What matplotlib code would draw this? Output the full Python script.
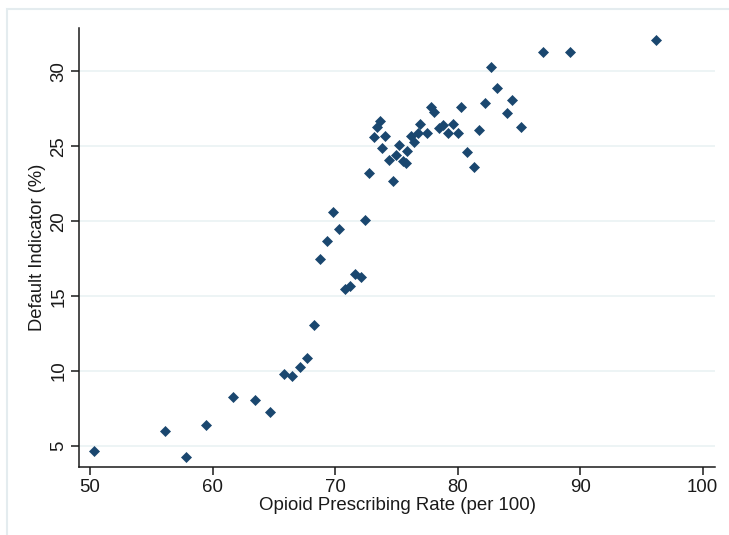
import numpy as np
import matplotlib
matplotlib.use("Agg")
import matplotlib.pyplot as plt
from matplotlib.patches import Rectangle

# opioid prescribing rate (per 100) and default indicator (%)
rate = [50.3, 56.1, 57.8, 59.5, 61.7, 63.5, 64.7, 65.8, 66.5, 67.1,
        67.7, 68.3, 68.8, 69.3, 69.8, 70.3, 70.8, 71.2, 71.6, 72.1,
        72.4, 72.8, 73.2, 73.4, 73.7, 74.1, 73.8, 74.4, 74.7, 75.0,
        75.2, 75.5, 75.8, 75.9, 76.2, 76.8, 76.4, 76.9, 77.5, 77.8,
        78.1, 78.5, 78.8, 79.2, 79.6, 80.0, 80.3, 80.8, 81.3, 81.7,
        82.2, 82.7, 83.2, 84.0, 84.4, 85.2, 87.0, 89.2, 96.2]
default = [4.7, 6.0, 4.3, 6.4, 8.3, 8.1, 7.3, 9.8, 9.7, 10.3,
           10.9, 13.1, 17.5, 18.7, 20.6, 19.5, 15.5, 15.7, 16.5, 16.3,
           20.1, 23.2, 25.6, 26.3, 26.7, 25.7, 24.9, 24.1, 22.7, 24.4,
           25.1, 24.0, 23.9, 24.7, 25.7, 25.9, 25.3, 26.5, 25.9, 27.6,
           27.3, 26.2, 26.4, 25.9, 26.5, 25.9, 27.6, 24.6, 23.6, 26.1,
           27.9, 30.3, 28.9, 27.2, 28.1, 26.3, 31.3, 31.3, 32.1]

xticks = [50, 60, 70, 80, 90, 100]
yticks = [5, 10, 15, 20, 25, 30]

plt.rcParams['font.family'] = ['Liberation Sans', 'DejaVu Sans']

fig = plt.figure(figsize=(7.29, 5.35), dpi=100)
# light frame of the graph region (only its top and left edges are in view)
fig.patches.append(Rectangle((7 / 729, -0.1), 1.1, 1 - 9 / 535 + 0.1, transform=fig.transFigure,
                             fill=False, edgecolor='#e4ecef', linewidth=1.5))
ax = fig.add_axes([0.1084, 0.1271, 0.8724, 0.8206])

ax.plot(rate, default, 'D', color='#1a476f', markersize=5.0, markeredgewidth=0.5,
        markeredgecolor='#1a476f', zorder=3)

ax.set_xlim(49.1, 101.0)
ax.set_ylim(3.6, 32.9)
ax.set_xticks(xticks)
ax.set_yticks(yticks)
ax.set_yticklabels([str(t) for t in yticks], rotation=90, va='center')

for s in ['top', 'right']:
    ax.spines[s].set_visible(False)
for s in ['left', 'bottom']:
    ax.spines[s].set_linewidth(1.1)
    ax.spines[s].set_color('#1a1a1a')

ax.tick_params(direction='out', length=5.5, width=1.1, labelsize=13.4, colors='#1a1a1a', pad=3)
ax.grid(axis='y', color='#eaf2f3', linewidth=1.2)
ax.set_axisbelow(True)

ax.set_xlabel('Opioid Prescribing Rate (per 100)', fontsize=13.4, color='#1a1a1a', labelpad=1)
ax.set_ylabel('Default Indicator (%)', fontsize=13.2, color='#1a1a1a', labelpad=3)

fig.savefig('out.png', dpi=100)
